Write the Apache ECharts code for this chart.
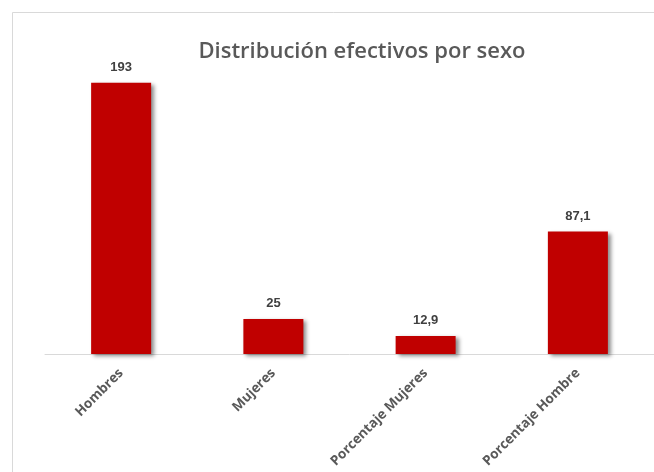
<!DOCTYPE html>
<html><head><meta charset="utf-8">
<script src="https://cdn.jsdelivr.net/npm/echarts@6/dist/echarts.min.js"></script>
<style>html,body{margin:0;padding:0;background:#fff}#c{width:654px;height:472px}</style>
</head><body><div id="c"></div>
<script>
const categories = ["Hombres", "Mujeres", "Porcentaje Mujeres", "Porcentaje Hombre"];
const values = [193, 25, 12.9, 87.1];
const valueLabels = ["193", "25", "12,9", "87,1"];
const titleText = "Distribución efectivos por sexo";

const chart = echarts.init(document.getElementById('c'));
chart.setOption({
  animation: false,
  backgroundColor: '#fff',
  graphic: [{
    type: 'rect', left: 10, top: 10, silent: true,
    shape: { width: 700, height: 500 },
    style: { fill: 'none', stroke: '#d9d9d9', lineWidth: 1 }
  }],
  title: {
    text: titleText, left: 357, top: 36, textAlign: 'center',
    textStyle: { fontFamily: 'Open Sans', fontWeight: 600, fontSize: 22, color: '#595959' }
  },
  grid: { left: 45, right: 0, top: 73, bottom: 118 },
  xAxis: {
    type: 'category', data: categories,
    axisLine: { lineStyle: { color: '#d9d9d9', width: 1 } },
    axisTick: { show: false },
    axisLabel: {
      rotate: 45, interval: 0, margin: 17,
      fontFamily: 'Open Sans', fontWeight: 'bold', fontSize: 13.5, color: '#595959'
    }
  },
  yAxis: { type: 'value', min: 0, max: 200, show: false, splitLine: { show: false } },
  series: [{
    type: 'bar', barWidth: 60,
    data: values,
    itemStyle: {
      color: '#c00000',
      shadowColor: 'rgba(0,0,0,0.45)', shadowBlur: 4, shadowOffsetX: 3, shadowOffsetY: 2
    },
    label: {
      show: true, position: 'top', distance: 9,
      formatter: p => valueLabels[p.dataIndex],
      fontFamily: 'Liberation Sans', fontWeight: 'bold', fontSize: 13, color: '#404040'
    }
  }]
});
</script></body></html>
